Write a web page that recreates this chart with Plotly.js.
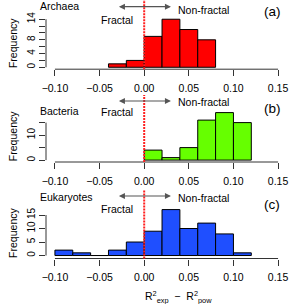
<!DOCTYPE html>
<html>
<head>
<meta charset="utf-8">
<script src="https://cdn.plot.ly/plotly-3.0.1.min.js"></script>
<style>html,body{margin:0;padding:0;background:#fff;}#chart{width:290px;height:304px;}</style>
</head>
<body>
<div id="chart"></div>
<script>
// ---- data ----
const binWidth = 0.02;
const archaeaBinStarts = [-0.04, -0.02, 0.00, 0.02, 0.04, 0.06];
const archaeaCounts    = [1, 2, 9, 14, 11, 8];
const bacteriaBinStarts = [0.00, 0.02, 0.04, 0.06, 0.08, 0.10];
const bacteriaCounts    = [4, 1, 5, 16, 19, 15];
const eukaryotesBinStarts = [-0.10, -0.08, -0.06, -0.04, -0.02, 0.00, 0.02, 0.04, 0.06, 0.08, 0.10];
const eukaryotesCounts    = [2, 1, 0, 2, 5, 9, 17, 10, 12, 8, 1];

const panelNames = ["Archaea", "Bacteria", "Eukaryotes"];
const panelTags  = ["(a)", "(b)", "(c)"];
const xTickVals = [-0.10, -0.05, 0.00, 0.05, 0.10, 0.15];
const xTickText = ["\u22120.10", "\u22120.05", "0.00", "0.05", "0.10", "0.15"];
const yLabelTicks = [[0, 4, 8, 14], [0, 10], [0, 5, 10, 15]];
const yMinorTicks = [[2, 6, 10, 12], [5, 15], []];
const arrowFrom = -0.03, arrowTo = 0.03;
const fractalLabel = "Fractal", nonFractalLabel = "Non-fractal";

// ---- styling / layout ----
const colors = ["#FF0000", "#66FF00", "#1F4FFF"];
const H = 304, L = 46, R = 3, PW = 290 - L - R;
const P = px => 1 - px / H;
const PX = px => (px - L) / PW;
const domains = [[P(69.2), P(17.3)], [P(162), P(110.7)], [P(258.5), P(207.7)]];
const yRanges = [[-0.56, 14.56], [-0.76, 19.76], [-1.1, 17.7]];
const series = [[archaeaBinStarts, archaeaCounts], [bacteriaBinStarts, bacteriaCounts], [eukaryotesBinStarts, eukaryotesCounts]];
const font = "Liberation Sans, Arial, sans-serif";
const axisColor = "#333";

const textY = [ // px rows for: name, Fractal, Non-fractal, arrow, tag, red line top
  [6, 20, 10, 6.7, 11, 0],
  [110.7, 112.3, 102.3, 101, 108.3, 95],
  [197.3, 209, 198.3, 196, 204, 190]
];

const traces = [];
const layout = {
  width: 290, height: 304,
  margin: {l: L, r: R, t: 0, b: 0},
  paper_bgcolor: "#fff", plot_bgcolor: "#fff",
  showlegend: false,
  font: {family: font, size: 10.5, color: "#000"},
  annotations: [], shapes: []
};

series.forEach(([starts, counts], i) => {
  const n = i === 0 ? "" : String(i + 1);
  traces.push({
    type: "bar",
    x: starts.map(s => s + binWidth / 2),
    y: counts,
    width: binWidth,
    xaxis: "x" + n, yaxis: "y" + n,
    marker: {color: colors[i], line: {color: "#000", width: 1}},
    hoverinfo: "skip"
  });
  layout["xaxis" + n] = {
    domain: [0, 1], anchor: "y" + n, range: [-0.11, 0.16],
    tickmode: "array", tickvals: xTickVals, ticktext: xTickText, ticks: "outside", ticklen: 6,
    tickcolor: axisColor, tickwidth: 1, showline: false, showgrid: false, zeroline: false,
    ticklabelstandoff: 3, ticklabeloverflow: "allow",
    tickfont: {family: font, size: 10.5, color: "#000"}
  };
  const all = yLabelTicks[i].concat(yMinorTicks[i]);
  layout["yaxis" + n] = {
    domain: domains[i], anchor: "x" + n, range: yRanges[i],
    tickmode: "array", tickvals: yLabelTicks[i], ticks: "outside", ticklen: 6,
    tickcolor: axisColor, tickwidth: 1, tickangle: -90,
    showline: false, showgrid: false, zeroline: false,
    minor: {tickmode: "array", tickvals: yMinorTicks[i], ticks: "outside", ticklen: 6, tickcolor: axisColor, tickwidth: 1, showgrid: false},
    tickfont: {family: font, size: 10, color: "#000"},
    title: {text: "Frequency", font: {family: font, size: 10.5, color: "#000"}, standoff: 6}
  };
  // axis lines (R style: between first and last tick)
  layout.shapes.push({type: "line", xref: "x" + n, yref: "paper",
    x0: xTickVals[0], x1: xTickVals[xTickVals.length - 1], y0: domains[i][0], y1: domains[i][0],
    line: {color: axisColor, width: 1}});
  layout.shapes.push({type: "line", xref: "paper", yref: "y" + n,
    x0: 0, x1: 0, y0: Math.min(...all), y1: Math.max(...all),
    line: {color: axisColor, width: 1}});
  // red dotted zero line
  layout.shapes.push({type: "line", xref: "x" + n, yref: "paper", layer: "above",
    x0: 0, x1: 0, y0: domains[i][0], y1: P(textY[i][5]),
    line: {color: "#FF2020", width: 2, dash: "2px,1px"}});

  const t = textY[i];
  layout.annotations.push({xref: "paper", yref: "paper", x: PX(38), y: P(t[0]),
    xanchor: "left", yanchor: "middle", text: panelNames[i], showarrow: false,
    font: {family: font, size: 10.5}});
  layout.annotations.push({xref: "x" + n, yref: "paper", x: arrowFrom, y: P(t[1]),
    xanchor: "center", yanchor: "middle", text: fractalLabel, showarrow: false,
    font: {family: font, size: 10.5}});
  layout.annotations.push({xref: "x" + n, yref: "paper", x: arrowTo + 0.006, y: P(t[2]),
    xanchor: "left", yanchor: "middle", text: nonFractalLabel, showarrow: false,
    font: {family: font, size: 10.5}});
  layout.annotations.push({xref: "x" + n, yref: "paper", x: arrowTo, y: P(t[3]),
    axref: "x" + n, ayref: "pixel", ax: arrowFrom, ay: 0,
    text: "", showarrow: true, arrowside: "end+start", arrowhead: 2, arrowsize: 1,
    arrowwidth: 1.2, arrowcolor: "#555", standoff: 0, startstandoff: 0});
  layout.annotations.push({xref: "paper", yref: "paper", x: PX(272), y: P(t[4]),
    xanchor: "center", yanchor: "middle", text: panelTags[i], showarrow: false,
    font: {family: font, size: 13.5}});
});

layout.annotations.push({xref: "paper", yref: "paper", x: 0.55, y: P(297),
  xanchor: "center", yanchor: "middle", showarrow: false,
  text: "R<sup>2</sup><sub>exp</sub>  \u2212  R<sup>2</sup><sub>pow</sub>",
  font: {family: font, size: 10.5}});

Plotly.newPlot("chart", traces, layout, {staticPlot: true, displayModeBar: false}).then(gd => {
  try {
    gd.querySelectorAll(".xtick text, .x2tick text, .x3tick text").forEach(el => {
      el.style.display = "";
      el.removeAttribute("display");
      el.style.opacity = 1;
    });
  } catch (e) {}
});
</script>
</body>
</html>
